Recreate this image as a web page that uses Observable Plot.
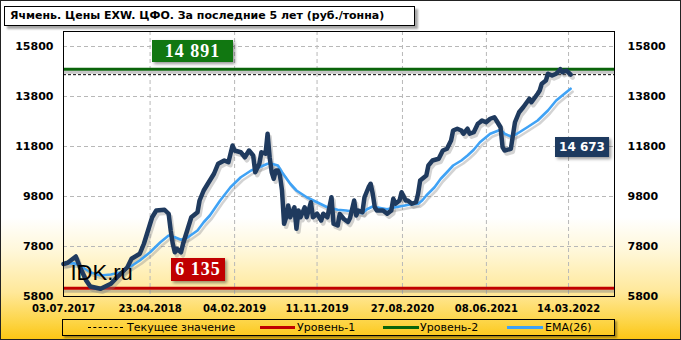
<!DOCTYPE html>
<html><head><meta charset="utf-8">
<script src="https://cdn.jsdelivr.net/npm/d3@7"></script>
<script src="https://cdn.jsdelivr.net/npm/@observablehq/plot@0.6"></script>
<style>
html,body{margin:0;padding:0;background:#fff;}
#wrap{position:relative;width:681px;height:340px;overflow:hidden;font-family:"DejaVu Sans",sans-serif;
background:linear-gradient(to bottom,#ffffff 0%,#ffffff 64%,#fff7d8 74%,#ffe899 86%,#fdd443 95%,#fcc512 100%);}
#chart{position:absolute;left:0;top:0;}
#border{position:absolute;left:0;top:0;width:681px;height:340px;box-sizing:border-box;border:1px solid #222;pointer-events:none;}
#title{position:absolute;left:4px;top:6px;width:411px;height:20px;box-sizing:border-box;border:1px solid #000;background:#fff;
box-shadow:3px 3px 2px rgba(0,0,0,0.35);font-weight:bold;font-size:11px;line-height:18px;padding-left:5px;white-space:nowrap;}
.lab{position:absolute;box-sizing:border-box;color:#fff;text-align:center;font-weight:bold;white-space:nowrap;
box-shadow:2px 2px 3px rgba(0,0,0,0.4);}
.serif{font-family:"Liberation Serif",serif;font-size:18px;letter-spacing:1px;}
#legend{position:absolute;left:62px;top:319px;width:553px;height:17px;box-sizing:border-box;border:1px solid #000;
box-shadow:2px 2px 2px rgba(0,0,0,0.35);font-size:11px;}
.li{position:absolute;top:0;line-height:15px;white-space:nowrap;}
.sw{position:absolute;top:7px;}
</style></head>
<body>
<div id="wrap">
  <div id="chart"></div>
  <div id="title"></div>
  <div id="lab2" class="lab serif" style="left:152px;top:40px;width:81px;height:22px;line-height:22px;background:#117711;"></div>
  <div id="lab1" class="lab serif" style="left:171px;top:258px;width:54px;height:23px;line-height:23px;background:#c00000;"></div>
  <div id="labc" class="lab" style="left:555px;top:137px;width:54px;height:20px;line-height:20px;background:#1d3a5f;font-size:12px;"></div>
  <div id="legend"></div>
  <div id="border"></div>
</div>
<script>
const titleText = "Ячмень. Цены EXW. ЦФО. За последние 5 лет (руб./тонна)";
const level1 = 6135;
const level2 = 14891;
const currentValue = 14673;
const yTicks = [5800, 7800, 9800, 11800, 13800, 15800];
const xTickLabels = ["03.07.2017","23.04.2018","04.02.2019","11.11.2019","27.08.2020","08.06.2021","14.03.2022"];
const legendLabels = ["Текущее значение","Уровень-1","Уровень-2","EMA(26)"];
const watermark = "IDK.ru";

const priceDates = ["2017-07-03","2017-07-17","2017-08-14","2017-08-28","2017-09-18","2017-10-02","2017-11-06","2017-12-11",
"2018-01-01","2018-02-05","2018-02-19","2018-03-19","2018-04-02","2018-04-16","2018-04-30","2018-05-14","2018-06-11","2018-06-25",
"2018-07-02","2018-07-09","2018-07-16","2018-07-23","2018-08-06","2018-08-13","2018-08-27","2018-09-10","2018-10-01","2018-10-08",
"2018-10-22","2018-11-05","2018-11-26","2018-12-10","2018-12-31","2019-01-14","2019-01-28","2019-02-04","2019-02-25","2019-03-11",
"2019-03-25","2019-04-08","2019-04-15","2019-04-29","2019-05-06","2019-05-20","2019-05-27","2019-06-03","2019-06-10","2019-06-17",
"2019-06-24","2019-07-01","2019-07-08","2019-07-15","2019-07-22","2019-07-29","2019-08-05","2019-08-12","2019-08-26","2019-09-02",
"2019-09-09","2019-09-16","2019-09-30","2019-10-07","2019-10-21","2019-10-28","2019-11-11","2019-11-25","2019-12-02","2019-12-16",
"2019-12-30","2020-01-06","2020-01-20","2020-01-27","2020-02-10","2020-02-24","2020-03-02","2020-03-16","2020-03-23","2020-03-30",
"2020-04-13","2020-04-20","2020-05-04","2020-05-11","2020-05-18","2020-05-25","2020-06-01","2020-06-22","2020-07-06","2020-07-20",
"2020-07-27","2020-08-03","2020-08-17","2020-08-24","2020-09-07","2020-09-14","2020-09-28","2020-10-12","2020-10-19","2020-10-26",
"2020-11-16","2020-11-23","2020-12-07","2020-12-28","2021-01-11","2021-01-25","2021-02-08","2021-02-15","2021-03-01","2021-03-15",
"2021-03-22","2021-04-05","2021-04-12","2021-04-26","2021-05-10","2021-05-17","2021-05-24","2021-06-07","2021-06-21","2021-07-05",
"2021-07-12","2021-07-26","2021-08-02","2021-08-09","2021-08-30","2021-09-06","2021-09-13","2021-09-27","2021-10-11","2021-11-01",
"2021-11-08","2021-11-29","2021-12-06","2021-12-13","2021-12-27","2022-01-03","2022-01-17","2022-01-31","2022-02-14","2022-02-21",
"2022-03-07","2022-03-21"];
const priceValues = [7100,7150,7400,6970,6440,6200,6110,6310,
6570,6970,7310,7510,7910,8440,8970,9240,9270,9110,
8440,7910,7570,7710,7570,7910,8440,8970,9170,9640,
10040,10310,10710,11110,11240,11170,11840,11640,11570,11370,
11640,11440,10770,11110,11570,11510,12310,11370,10770,10510,
10840,10840,10640,10040,8710,8970,9440,8970,9370,8510,
9240,8970,9370,8970,9570,8970,9110,8840,9110,8970,
9770,8710,8640,9100,8900,8780,8940,9640,9040,9240,
9170,9770,10170,10310,9910,9370,9240,9240,9110,9240,
9710,9510,9640,9970,9640,9640,9510,9570,9910,10440,
10640,11040,11240,11310,11640,11710,12040,12440,12510,12440,
12310,12510,12310,12370,12710,12770,12840,12770,12910,12970,
12840,12570,11770,11640,11710,12240,12770,13170,13370,13710,
13570,13910,14040,14310,14440,14710,14640,14710,14891,14770,
14840,14673];

const emaDates = ["2017-07-03","2017-08-07","2017-08-28","2017-10-02","2017-11-06","2017-12-11","2018-01-15","2018-02-12",
"2018-03-19","2018-04-23","2018-05-28","2018-06-25","2018-07-16","2018-08-06","2018-08-27","2018-10-01","2018-10-22","2018-11-12",
"2018-12-17","2019-01-21","2019-02-25","2019-04-01","2019-04-29","2019-05-27","2019-06-10","2019-07-01","2019-07-15","2019-08-12",
"2019-09-02","2019-10-07","2019-11-11","2019-12-16","2020-01-20","2020-02-17","2020-03-23","2020-04-13","2020-04-27","2020-05-18",
"2020-06-08","2020-07-06","2020-08-03","2020-08-31","2020-09-21","2020-10-19","2020-11-02","2020-11-16","2020-12-14","2021-01-04",
"2021-01-25","2021-02-15","2021-03-15","2021-04-05","2021-04-26","2021-05-17","2021-06-21","2021-07-26","2021-08-09","2021-08-30",
"2021-09-20","2021-10-25","2021-11-29","2022-01-03","2022-01-31","2022-02-28","2022-03-21"];
const emaValues = [7110,7130,7040,6770,6640,6680,6770,6970,
7240,7570,7970,8240,8170,8070,8150,8440,8770,9040,
9640,10170,10570,10840,10970,11110,11110,11040,10770,10310,
10040,9770,9570,9370,9270,9240,9180,9130,9280,9400,
9350,9290,9370,9430,9480,9510,9640,9840,10170,10510,
10770,11040,11240,11440,11670,11970,12310,12470,12310,12200,
12310,12570,12840,13240,13640,13910,14110];

const parse = d3.utcParse("%Y-%m-%d");
const parseTick = d3.utcParse("%d.%m.%Y");
const price = priceDates.map((d, i) => ({date: parse(d), value: priceValues[i]}));
const ema = emaDates.map((d, i) => ({date: parse(d), value: emaValues[i]}));
const xTicks = xTickLabels.map(parseTick);
const fmt = v => d3.format(",")(v).replace(/,/g, " ");

const axisStyle = {tickSize: 0, fontWeight: "bold", label: null};
const chart = Plot.plot({
  width: 681, height: 340,
  marginLeft: 63, marginRight: 67, marginTop: 31, marginBottom: 44,
  style: {background: "transparent", fontFamily: "DejaVu Sans, sans-serif", fontSize: "11px", color: "#000", overflow: "visible"},
  x: {type: "utc", domain: [parse("2017-07-03"), parse("2022-08-17")]},
  y: {domain: [5800, 16400]},
  marks: [
    Plot.gridY(yTicks.slice(1), {stroke: "#b8b8b8", strokeOpacity: 1, strokeDasharray: "4,3"}),
    Plot.gridX(xTicks.slice(1), {stroke: "#b8b8b8", strokeOpacity: 1, strokeDasharray: "4,3"}),
    Plot.ruleY([level2], {stroke: "#808080", strokeOpacity: 0.45, strokeWidth: 3, dy: 3}),
    Plot.ruleY([level1], {stroke: "#808080", strokeOpacity: 0.45, strokeWidth: 3, dy: 3}),
    Plot.ruleY([level2], {stroke: "#0a640a", strokeWidth: 3}),
    Plot.ruleY([level1], {stroke: "#c00000", strokeWidth: 3}),
    Plot.ruleY([currentValue], {stroke: "#000", strokeWidth: 1, strokeDasharray: "3,2"}),
    Plot.line(ema, {x: "date", y: "value", stroke: "#808080", strokeOpacity: 0.35, strokeWidth: 2.6, dx: 2, dy: 3}),
    Plot.line(price, {x: "date", y: "value", stroke: "#808080", strokeOpacity: 0.35, strokeWidth: 4.5, dx: 2, dy: 3, strokeLinejoin: "round"}),
    Plot.line(ema, {x: "date", y: "value", stroke: "#3fa2f5", strokeWidth: 2.6, strokeLinejoin: "round"}),
    Plot.line(price, {x: "date", y: "value", stroke: "#1f3a5e", strokeWidth: 4.5, strokeLinejoin: "round"}),
    Plot.text([watermark], {frameAnchor: "bottom-left", dx: 7, dy: -17, lineAnchor: "bottom", textAnchor: "start",
      fontSize: 22, fontFamily: "Liberation Sans, sans-serif", fill: "#000"}),
    Plot.frame({stroke: "#000", strokeWidth: 1}),
    Plot.axisY(yTicks, {anchor: "left", tickPadding: 10, fontSize: 11, tickFormat: d3.format("d"), ...axisStyle}),
    Plot.axisY(yTicks, {anchor: "right", tickPadding: 13, fontSize: 11, tickFormat: d3.format("d"), ...axisStyle}),
    Plot.axisX(xTicks, {anchor: "bottom", tickPadding: 8, fontSize: 10, tickFormat: d3.utcFormat("%d.%m.%Y"), ...axisStyle})
  ]
});
document.getElementById("chart").appendChild(chart);

document.getElementById("title").textContent = titleText;
document.getElementById("lab2").textContent = fmt(level2);
document.getElementById("lab1").textContent = fmt(level1);
document.getElementById("labc").textContent = fmt(currentValue);

const lg = document.getElementById("legend");
const items = [
  {sw: 25, w: 35, style: "border-top:1px dashed #000;top:7px;", tx: 64, label: legendLabels[0]},
  {sw: 197, w: 35, style: "border-top:3px solid #c00000;top:6px;", tx: 234, label: legendLabels[1]},
  {sw: 320, w: 36, style: "border-top:3px solid #0a640a;top:6px;", tx: 357, label: legendLabels[2]},
  {sw: 444, w: 36, style: "border-top:3px solid #3fa2f5;top:6px;", tx: 482, label: legendLabels[3]}
];
items.forEach(it => {
  const s = document.createElement("div");
  s.className = "sw";
  s.style.cssText = `left:${it.sw}px;width:${it.w}px;${it.style}`;
  lg.appendChild(s);
  const t = document.createElement("div");
  t.className = "li";
  t.style.left = it.tx + "px";
  t.textContent = it.label;
  lg.appendChild(t);
});
</script>
</body></html>
